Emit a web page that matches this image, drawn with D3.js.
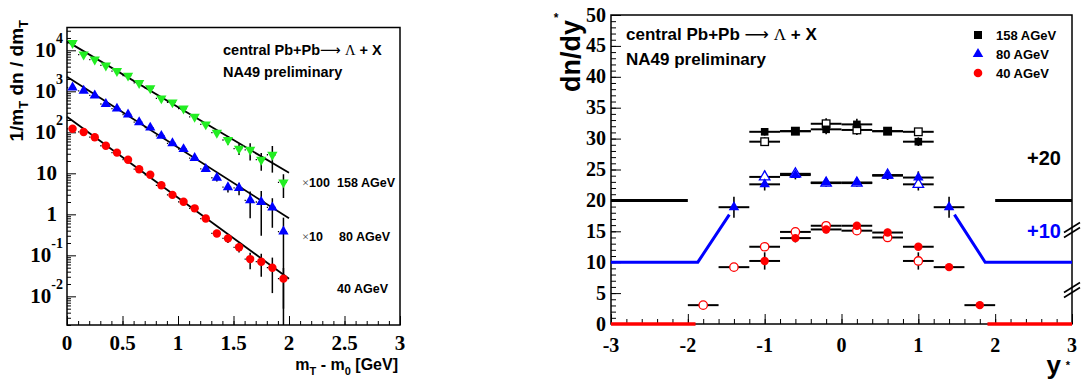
<!DOCTYPE html>
<html><head><meta charset="utf-8">
<script src="https://cdn.jsdelivr.net/npm/d3@7"></script>
<style>
html,body{margin:0;padding:0;background:#fff;}
svg{display:block;}
</style></head>
<body>
<svg id="c" width="1081" height="383"></svg>
<script>
// ---------- LEFT PANEL DATA (mT spectra) ----------
const mT = [0.05,0.15,0.25,0.35,0.45,0.55,0.65,0.75,0.85,0.95,1.05,1.15,1.25,1.35,1.45,1.55,1.65,1.75,1.85,1.95];
const spec40  = [122,102,76,47,32,21.5,12.6,9.2,5.1,2.98,2.02,1.40,0.79,0.342,0.259,0.157,0.081,0.070,0.050,0.027];
const err40   = [3,3,2,1.5,1,0.6,0.4,0.3,0.2,0.1,0.08,0.06,0.05,0.05,0.06,0.04,0.035,0.04,0.038,0.022];
const spec80  = [1237,1028,794,491,379,272,177,130,82,54,39,23.6,12.8,7.8,4.6,4.4,2.2,2.0,1.47,0.38];
const err80   = [30,25,20,12,10,7,5,4,3,2,1.5,1.2,1.0,1.5,1.2,1.5,1.4,1.7,1.0,0.45];
const spec158 = [15000,7870,5960,4270,3120,2410,1600,1190,672,538,379,239,156,98,65,40,37.5,21.5,28.4,6.0];
const err158  = [300,200,150,100,80,60,40,30,20,15,12,10,10,15,15,12,17,10,18,3.5];
const fitX    = [0, 2];
const fit40   = [239, 0.027];
const fit80   = [2280, 0.80];
const fit158  = [16500, 10.3];
const logTicks = [1e-2,1e-1,1,10,1e2,1e3,1e4];
const logLabels = [["10","-2"],["10","-1"],["1",""],["10",""],["10","2"],["10","3"],["10","4"]];
const xTicksL = [0,0.5,1,1.5,2,2.5,3];

// ---------- RIGHT PANEL DATA (rapidity) ----------
const y158  = [-1.0,-0.6,-0.2,0.2,0.6,1.0];
const dn158 = [31.1,31.2,31.5,32.3,31.2,29.5];
const e158  = [0.6,0.5,0.8,0.9,0.5,0.7];
const y158r  = [-1.0,-0.6,-0.2,0.2,0.6,1.0];
const dn158r = [29.5,31.2,32.4,31.4,31.2,31.1];
const e158r  = [0.7,0.5,0.9,0.8,0.5,0.6];
const y80   = [-1.4,-1.0,-0.6,-0.2,0.2,0.6,1.0,1.4];
const dn80  = [18.9,22.6,24.1,22.9,22.9,24.0,23.7,18.9];
const e80   = [1.7,1.0,0.7,0.6,0.6,0.7,1.0,1.7];
const y80r  = [-1.0,-0.6,-0.2,0.2,0.6,1.0];
const dn80r = [23.8,24.3,22.8,22.8,24.1,22.6];
const e80r  = [1.0,0.7,0.6,0.6,0.7,1.0];
const y40   = [-1.0,-0.6,-0.2,0.2,0.6,1.0,1.4,1.8];
const dn40  = [10.2,13.9,15.3,15.9,14.8,12.5,9.2,3.05];
const e40   = [1.4,0.7,0.6,0.6,0.6,0.5,0.3,0.3];
const y40r  = [-1.8,-1.4,-1.0,-0.6,-0.2,0.2,0.6,1.0];
const dn40r = [3.05,9.2,12.5,14.9,15.9,15.1,14.0,10.2];
const e40r  = [0.3,0.3,0.5,0.6,0.6,0.6,0.7,1.4];
const binHalf = 0.2;
const ref158 = [[[-3,20],[-2,20]],[[2,20],[3,20]]];
const ref80  = [[[-3,10],[-1.87,10],[-1.46,17.7]],[[1.47,17.7],[1.87,10],[3,10]]];
const ref40  = [[[-3,0],[-1.9,0]],[[1.9,0],[3,0]]];
const yTicksR = [0,5,10,15,20,25,30,35,40,45,50];
const xTicksR = [-3,-2,-1,0,1,2,3];
const legendNames = ["158 AGeV","80 AGeV","40 AGeV"];

const GREEN="#22ee22", BLUE="#0000ff", RED="#ff0000";
const SERIF="'Liberation Serif','Times New Roman',serif";
const SANS="'Liberation Sans',Arial,Helvetica,sans-serif";

const svg = d3.select("#c");

// ================= LEFT PANEL =================
const xL = d3.scaleLinear().domain([0,3]).range([67,400]);
const yL = d3.scaleLog().domain([0.0020,36000]).range([325,27.5]);
const L = svg.append("g");

const yMinor=[];
for(let e=-3;e<=4;e++) for(let m=2;m<=9;m++){const v=m*Math.pow(10,e); if(v>=0.002&&v<=36000) yMinor.push(v);}
L.append("g").attr("transform","translate(67,0)")
 .call(d3.axisLeft(yL).tickValues(yMinor).tickSize(-4).tickFormat(""))
 .call(g=>{g.select(".domain").remove(); g.selectAll("line").attr("stroke","#000").attr("stroke-width",1);});
L.append("g").attr("transform","translate(67,0)")
 .call(d3.axisLeft(yL).tickValues(logTicks).tickSize(-9).tickFormat(""))
 .call(g=>{g.select(".domain").remove(); g.selectAll("line").attr("stroke","#000").attr("stroke-width",1);});
L.append("g").attr("transform","translate(0,325)")
 .call(d3.axisBottom(xL).tickValues(d3.range(0,31).map(i=>i/10)).tickSize(-4).tickFormat(""))
 .call(g=>{g.select(".domain").remove(); g.selectAll("line").attr("stroke","#000");});
L.append("g").attr("transform","translate(0,325)")
 .call(d3.axisBottom(xL).tickValues(xTicksL).tickSize(-9).tickFormat(""))
 .call(g=>{g.select(".domain").remove(); g.selectAll("line").attr("stroke","#000");});
L.append("rect").attr("x",67).attr("y",27.5).attr("width",333).attr("height",297.5)
 .attr("fill","none").attr("stroke","#000").attr("stroke-width",1.5);

logTicks.forEach((v,i)=>{
  const lab=logLabels[i];
  const t=L.append("text").attr("y",yL(v)+7).attr("font-family",SERIF).attr("font-weight","bold")
    .attr("font-size",21).attr("text-anchor","end");
  if(lab[1]){
    t.attr("x",63);
    t.append("tspan").text(lab[0]);
    t.append("tspan").attr("dy",-14).attr("font-size",14).text(lab[1]);
  } else {
    t.attr("x",57).text(lab[0]);
  }
});
L.selectAll(".xl").data(xTicksL).enter().append("text")
 .attr("x",d=>xL(d)).attr("y",350).attr("text-anchor","middle")
 .attr("font-family",SERIF).attr("font-weight","bold").attr("font-size",21)
 .text(d=>d3.format("")(d));

const xt=L.append("text").attr("x",398).attr("y",370).attr("text-anchor","end")
 .attr("font-family",SANS).attr("font-weight","bold").attr("font-size",16);
xt.append("tspan").text("m");
xt.append("tspan").attr("dy",5).attr("font-size",11).text("T");
xt.append("tspan").attr("dy",-5).text(" - m");
xt.append("tspan").attr("dy",5).attr("font-size",11).text("0");
xt.append("tspan").attr("dy",-5).text(" [GeV]");

const yt=L.append("text").attr("transform","translate(23,20) rotate(-90)").attr("text-anchor","end")
 .attr("font-family",SANS).attr("font-weight","bold").attr("font-size",19);
yt.append("tspan").text("1/m");
yt.append("tspan").attr("dy",5).attr("font-size",13).text("T");
yt.append("tspan").attr("dy",-5).text(" dn / dm");
yt.append("tspan").attr("dy",5).attr("font-size",13).text("T");

const lineL=d3.line().x(d=>xL(d[0])).y(d=>yL(d[1]));
[fit158,fit80,fit40].forEach(f=>{
  L.append("path").attr("d",lineL(fitX.map((x,i)=>[x,f[i]])))
   .attr("stroke","#000").attr("stroke-width",1.8).attr("fill","none");
});

function leftSeries(vals,errs,color,shape){
  const g=L.append("g");
  mT.forEach((x,i)=>{
    const v=vals[i], e=errs[i];
    const lo=Math.max(v-e,0.0020), hi=v+e;
    g.append("line").attr("x1",xL(x)).attr("x2",xL(x)).attr("y1",yL(lo)).attr("y2",yL(hi))
      .attr("stroke","#000").attr("stroke-width",1.5);
    g.append("line").attr("x1",xL(x-0.05)).attr("x2",xL(x+0.05)).attr("y1",yL(v)).attr("y2",yL(v))
      .attr("stroke","#000").attr("stroke-width",1.3).attr("stroke-dasharray","1.2,2.6");
  });
  mT.forEach((x,i)=>{
    const cx=xL(x), cy=yL(vals[i]);
    if(shape==="circle") g.append("circle").attr("cx",cx).attr("cy",cy).attr("r",4.2).attr("fill",color);
    else g.append("path").attr("transform",`translate(${cx},${cy})${shape==="down"?" rotate(180)":""}`)
      .attr("d",d3.symbol(d3.symbolTriangle,46)()).attr("fill",color);
  });
}
leftSeries(spec158,err158,GREEN,"down");
leftSeries(spec80,err80,BLUE,"up");
leftSeries(spec40,err40,RED,"circle");

function reaction(g,x,y,fs,space){
  const t=g.append("text").attr("x",x).attr("y",y).attr("font-family",SANS).attr("font-weight","bold").attr("font-size",fs);
  t.append("tspan").text("central Pb+Pb"+(space?" ":""));
  t.append("tspan").attr("font-weight","normal").attr("font-family","'DejaVu Sans',sans-serif").text("\u27F6");
  t.append("tspan").text(" ");
  t.append("tspan").attr("font-family",SERIF).attr("font-weight","normal").text("\u039B");
  t.append("tspan").text(" + X");
}
reaction(L,223,55,14.5,false);
L.append("text").attr("x",223).attr("y",77).attr("font-family",SANS).attr("font-weight","bold").attr("font-size",14.5).text("NA49 preliminary");
function scaleLabel(x,y,mult){
  const t=L.append("text").attr("x",x).attr("y",y).attr("font-family",SANS).attr("font-weight","bold").attr("font-size",12.5);
  t.append("tspan").attr("font-weight","normal").attr("font-family",SERIF).attr("fill","#444").text("\u00D7");
  t.append("tspan").text(mult);
}
scaleLabel(302,187,"100");
scaleLabel(302,241,"10");
L.append("text").attr("x",395).attr("y",187).attr("text-anchor","end").attr("font-family",SANS).attr("font-weight","bold").attr("font-size",12.5).text("158 AGeV");
L.append("text").attr("x",390).attr("y",241).attr("text-anchor","end").attr("font-family",SANS).attr("font-weight","bold").attr("font-size",12.5).text("80 AGeV");
L.append("text").attr("x",388).attr("y",293).attr("text-anchor","end").attr("font-family",SANS).attr("font-weight","bold").attr("font-size",12.5).text("40 AGeV");

// ================= RIGHT PANEL =================
const xR = d3.scaleLinear().domain([-3,3]).range([611,1072]);
const yR = d3.scaleLinear().domain([0,50]).range([324,15]);
const R = svg.append("g");

R.append("g").attr("transform","translate(611,0)")
 .call(d3.axisLeft(yR).tickValues(d3.range(0,51)).tickSize(-5).tickFormat(""))
 .call(g=>{g.select(".domain").remove(); g.selectAll("line").attr("stroke","#000");});
R.append("g").attr("transform","translate(611,0)")
 .call(d3.axisLeft(yR).tickValues(yTicksR).tickSize(-10).tickFormat(""))
 .call(g=>{g.select(".domain").remove(); g.selectAll("line").attr("stroke","#000");});
R.append("g").attr("transform","translate(0,324)")
 .call(d3.axisBottom(xR).tickValues(d3.range(-15,16).map(i=>i/5)).tickSize(-5).tickFormat(""))
 .call(g=>{g.select(".domain").remove(); g.selectAll("line").attr("stroke","#000");});
R.append("g").attr("transform","translate(0,324)")
 .call(d3.axisBottom(xR).tickValues(xTicksR).tickSize(-10).tickFormat(""))
 .call(g=>{g.select(".domain").remove(); g.selectAll("line").attr("stroke","#000");});
R.append("rect").attr("x",611).attr("y",15).attr("width",461).attr("height",309)
 .attr("fill","none").attr("stroke","#000").attr("stroke-width",1.5);

R.selectAll(".yl").data(yTicksR).enter().append("text")
 .attr("x",606).attr("y",d=>yR(d)+6.5).attr("text-anchor","end")
 .attr("font-family",SERIF).attr("font-weight","bold").attr("font-size",20).text(d=>d);
R.selectAll(".xl").data(xTicksR).enter().append("text")
 .attr("x",d=>xR(d)).attr("y",352).attr("text-anchor","middle")
 .attr("font-family",SERIF).attr("font-weight","bold").attr("font-size",20).text(d=>d);

R.append("text").attr("transform","translate(580,20) rotate(-90)").attr("text-anchor","end")
 .attr("font-family",SANS).attr("font-weight","bold").attr("font-size",27).text("dn/dy");
R.append("text").attr("x",556).attr("y",22).attr("text-anchor","middle")
 .attr("font-family",SANS).attr("font-weight","bold").attr("font-size",12).text("*");
R.append("text").attr("x",1061).attr("y",374).attr("text-anchor","end")
 .attr("font-family",SANS).attr("font-weight","bold").attr("font-size",26).text("y");
R.append("text").attr("x",1068).attr("y",369).attr("text-anchor","middle")
 .attr("font-family",SANS).attr("font-weight","bold").attr("font-size",11).text("*");

const lineR=d3.line().x(d=>xR(d[0])).y(d=>yR(d[1]));
ref158.forEach(s=>R.append("path").attr("d",lineR(s)).attr("stroke","#000").attr("stroke-width",3).attr("fill","none"));
ref80.forEach(s=>R.append("path").attr("d",lineR(s)).attr("stroke",BLUE).attr("stroke-width",3).attr("fill","none"));
ref40.forEach(s=>R.append("path").attr("d",lineR(s)).attr("stroke",RED).attr("stroke-width",3.5).attr("fill","none"));

function errBars(xs,ys,es){
  xs.forEach((x,i)=>{
    R.append("line").attr("x1",xR(x-binHalf)).attr("x2",xR(x+binHalf)).attr("y1",yR(ys[i])).attr("y2",yR(ys[i]))
      .attr("stroke","#000").attr("stroke-width",2);
    R.append("line").attr("x1",xR(x)).attr("x2",xR(x)).attr("y1",yR(ys[i]-es[i])).attr("y2",yR(ys[i]+es[i]))
      .attr("stroke","#000").attr("stroke-width",1.6);
  });
}
function marks(xs,ys,shape,color,filled){
  xs.forEach((x,i)=>{
    const cx=xR(x), cy=yR(ys[i]);
    let el;
    if(shape==="square") el=R.append("rect").attr("x",cx-3.8).attr("y",cy-3.8).attr("width",7.6).attr("height",7.6);
    else if(shape==="circle") el=R.append("circle").attr("cx",cx).attr("cy",cy).attr("r",4.2);
    else el=R.append("path").attr("transform",`translate(${cx},${cy})`).attr("d",d3.symbol(d3.symbolTriangle,48)());
    if(filled) el.attr("fill",color); else el.attr("fill","#fff").attr("stroke",color).attr("stroke-width",1.3);
  });
}
errBars(y158,dn158,e158); errBars(y158r,dn158r,e158r);
errBars(y80,dn80,e80); errBars(y80r,dn80r,e80r);
errBars(y40,dn40,e40); errBars(y40r,dn40r,e40r);
marks(y158r,dn158r,"square","#000",false);
marks(y158,dn158,"square","#000",true);
marks(y80r,dn80r,"tri",BLUE,false);
marks(y80,dn80,"tri",BLUE,true);
marks(y40r,dn40r,"circle",RED,false);
marks(y40,dn40,"circle",RED,true);

reaction(R,626,40,17,true);
R.append("text").attr("x",626).attr("y",65).attr("font-family",SANS).attr("font-weight","bold").attr("font-size",17).text("NA49 preliminary");

const legY=[35,54,73];
R.append("rect").attr("x",978-4).attr("y",legY[0]-4).attr("width",8).attr("height",8).attr("fill","#000");
R.append("path").attr("transform",`translate(978,${legY[1]})`).attr("d",d3.symbol(d3.symbolTriangle,48)()).attr("fill",BLUE);
R.append("circle").attr("cx",978).attr("cy",legY[2]).attr("r",4.3).attr("fill",RED);
legendNames.forEach((n,i)=>R.append("text").attr("x",996).attr("y",legY[i]+5).attr("font-family",SANS)
  .attr("font-weight","bold").attr("font-size",13).text(n));

R.append("text").attr("x",1061).attr("y",165).attr("text-anchor","end").attr("font-family",SANS)
 .attr("font-weight","bold").attr("font-size",20).attr("fill","#000").text("+20");
R.append("text").attr("x",1061).attr("y",238).attr("text-anchor","end").attr("font-family",SANS)
 .attr("font-weight","bold").attr("font-size",20).attr("fill",BLUE).text("+10");

[230,290].forEach(yc=>{
  [-2.5,2.5].forEach(o=>{
    R.append("line").attr("x1",1064).attr("y1",yc+o+5).attr("x2",1080).attr("y2",yc+o-5)
     .attr("stroke","#000").attr("stroke-width",1.6);
  });
});
</script>
</body></html>
